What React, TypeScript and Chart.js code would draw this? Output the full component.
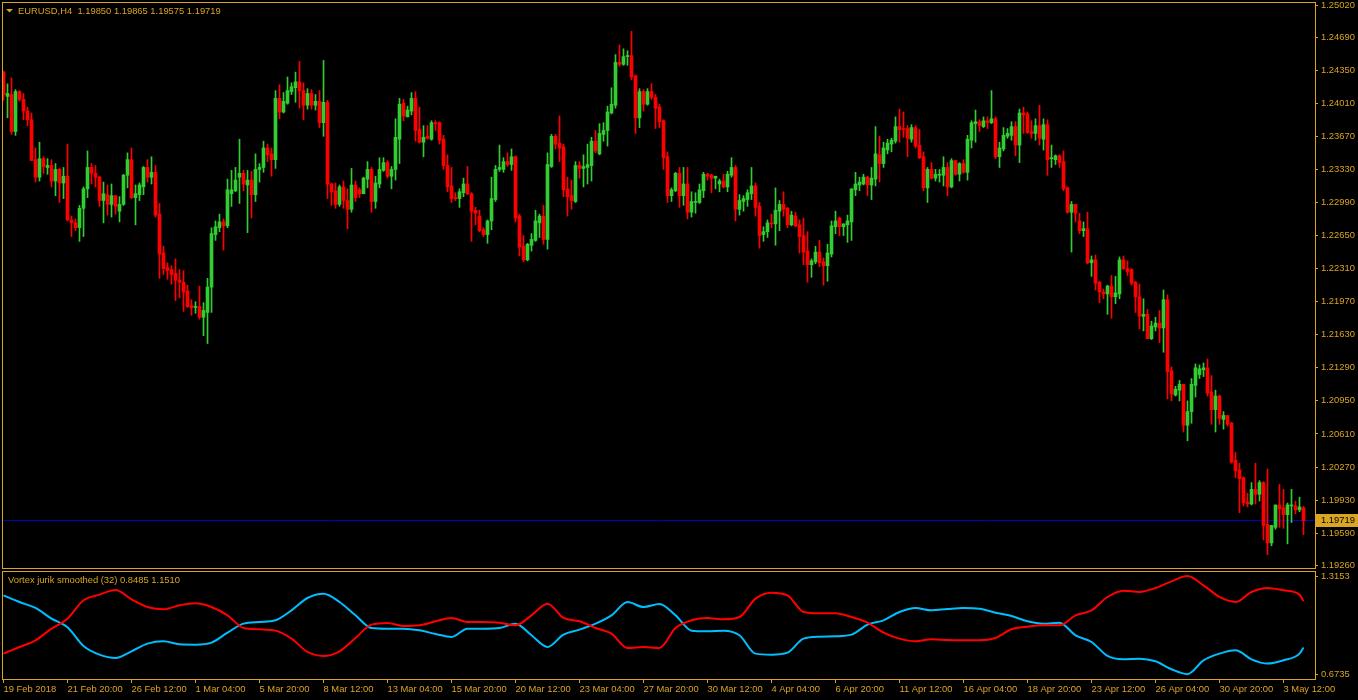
import React, { useEffect, useRef } from "react";
import { Chart, registerables } from "chart.js";

Chart.register(...registerables);

// ---------- text ----------
const SYMBOL_HEADER = "EURUSD,H4  1.19850 1.19865 1.19575 1.19719";
const INDICATOR_HEADER = "Vortex jurik smoothed (32) 0.8485 1.1510";

// ---------- candles (EURUSD H4, 326 bars) ----------
const OPEN = [
  1.2433, 1.2408, 1.2410, 1.2372, 1.2413, 1.2405, 1.2393, 1.2384, 1.2343, 1.2325,
  1.2344, 1.2335, 1.2337, 1.2321, 1.2333, 1.2319, 1.2326, 1.2281, 1.2278, 1.2273,
  1.2293, 1.2313, 1.2335, 1.2329, 1.2325, 1.2301, 1.2307, 1.2297, 1.2306, 1.2290,
  1.2297, 1.2327, 1.2343, 1.2304, 1.2307, 1.2315, 1.2335, 1.2325, 1.2330, 1.2287,
  1.2247, 1.2232, 1.2230, 1.2226, 1.2219, 1.2217, 1.2208, 1.2193, 1.2191, 1.2192,
  1.2181, 1.2186, 1.2212, 1.2266, 1.2273, 1.2279, 1.2275, 1.2308, 1.2311, 1.2325,
  1.2329, 1.2317, 1.2322, 1.2307, 1.2333, 1.2335, 1.2355, 1.2349, 1.2343, 1.2406,
  1.2392, 1.2401, 1.2413, 1.2417, 1.2423, 1.2414, 1.2399, 1.2411, 1.2399, 1.2403,
  1.2381, 1.2402, 1.2318, 1.2311, 1.2297, 1.2315, 1.2301, 1.2292, 1.2317, 1.2312,
  1.2308, 1.2323, 1.2333, 1.2300, 1.2318, 1.2332, 1.2340, 1.2326, 1.2333, 1.2364,
  1.2401, 1.2387, 1.2393, 1.2406, 1.2374, 1.2361, 1.2367, 1.2364, 1.2381, 1.2381,
  1.2364, 1.2337, 1.2316, 1.2304, 1.2303, 1.2309, 1.2318, 1.2308, 1.2291, 1.2285,
  1.2271, 1.2266, 1.2280, 1.2302, 1.2333, 1.2333, 1.2341, 1.2338, 1.2346, 1.2285,
  1.2254, 1.2240, 1.2255, 1.2260, 1.2278, 1.2285, 1.2261, 1.2336, 1.2367, 1.2360,
  1.2356, 1.2313, 1.2306, 1.2300, 1.2337, 1.2334, 1.2335, 1.2337, 1.2362, 1.2349,
  1.2369, 1.2373, 1.2391, 1.2399, 1.2443, 1.2441, 1.2449, 1.2450, 1.2429, 1.2386,
  1.2413, 1.2400, 1.2413, 1.2407, 1.2397, 1.2383, 1.2346, 1.2306, 1.2311, 1.2329,
  1.2306, 1.2318, 1.2289, 1.2299, 1.2299, 1.2311, 1.2328, 1.2327, 1.2324, 1.2318,
  1.2321, 1.2315, 1.2327, 1.2335, 1.2292, 1.2300, 1.2302, 1.2308, 1.2316, 1.2295,
  1.2266, 1.2269, 1.2278, 1.2277, 1.2290, 1.2297, 1.2293, 1.2276, 1.2285, 1.2276,
  1.2265, 1.2249, 1.2235, 1.2238, 1.2248, 1.2238, 1.2234, 1.2246, 1.2274, 1.2283,
  1.2274, 1.2276, 1.2279, 1.2312, 1.2317, 1.2318, 1.2325, 1.2317, 1.2323, 1.2348,
  1.2339, 1.2353, 1.2359, 1.2362, 1.2377, 1.2375, 1.2375, 1.2364, 1.2376, 1.2358,
  1.2346, 1.2314, 1.2333, 1.2324, 1.2327, 1.2327, 1.2335, 1.2315, 1.2342, 1.2328,
  1.2339, 1.2330, 1.2363, 1.2380, 1.2382, 1.2377, 1.2383, 1.2381, 1.2385, 1.2346,
  1.2354, 1.2367, 1.2368, 1.2377, 1.2358, 1.2391, 1.2390, 1.2372, 1.2370, 1.2378,
  1.2364, 1.2379, 1.2344, 1.2343, 1.2347, 1.2341, 1.2314, 1.2289, 1.2297, 1.2280,
  1.2270, 1.2272, 1.2237, 1.2240, 1.2217, 1.2207, 1.2205, 1.2213, 1.2202, 1.2205,
  1.2240, 1.2231, 1.2230, 1.2217, 1.2202, 1.2182, 1.2184, 1.2159, 1.2171, 1.2175,
  1.2170, 1.2199, 1.2126, 1.2101, 1.2106, 1.2112, 1.2070, 1.2084, 1.2111, 1.2122,
  1.2127, 1.2129, 1.2104, 1.2086, 1.2100, 1.2076, 1.2080, 1.2072, 1.2034, 1.2024,
  1.2016, 1.1991, 1.1989, 1.2004, 1.1999, 1.2011, 1.1968, 1.1949, 1.1965, 1.1988,
  1.1985, 1.1978, 1.1987, 1.1987, 1.1983, 1.1985,
];
const HIGH = [
  1.2434, 1.2421, 1.2427, 1.2415, 1.2414, 1.2411, 1.2397, 1.2391, 1.2355, 1.2361,
  1.2346, 1.2344, 1.2343, 1.2339, 1.2334, 1.2335, 1.2359, 1.2285, 1.2282, 1.2296,
  1.2315, 1.2352, 1.2339, 1.2337, 1.2326, 1.2320, 1.2317, 1.2318, 1.2306, 1.2305,
  1.2328, 1.2350, 1.2355, 1.2317, 1.2319, 1.2336, 1.2343, 1.2346, 1.2337, 1.2298,
  1.2254, 1.2237, 1.2234, 1.2241, 1.2230, 1.2229, 1.2214, 1.2199, 1.2197, 1.2213,
  1.2196, 1.2221, 1.2273, 1.2280, 1.2287, 1.2282, 1.2323, 1.2332, 1.2335, 1.2364,
  1.2332, 1.2332, 1.2331, 1.2349, 1.2339, 1.2362, 1.2359, 1.2355, 1.2414, 1.2420,
  1.2412, 1.2428, 1.2422, 1.2433, 1.2444, 1.2422, 1.2416, 1.2415, 1.2410, 1.2414,
  1.2445, 1.2404, 1.2319, 1.2319, 1.2317, 1.2321, 1.2313, 1.2334, 1.2321, 1.2314,
  1.2325, 1.2341, 1.2335, 1.2326, 1.2345, 1.2345, 1.2342, 1.2336, 1.2385, 1.2406,
  1.2405, 1.2398, 1.2412, 1.2413, 1.2397, 1.2378, 1.2378, 1.2383, 1.2383, 1.2382,
  1.2368, 1.2348, 1.2335, 1.2309, 1.2313, 1.2324, 1.2336, 1.2309, 1.2294, 1.2291,
  1.2273, 1.2281, 1.2325, 1.2337, 1.2358, 1.2345, 1.2350, 1.2354, 1.2347, 1.2287,
  1.2265, 1.2257, 1.2267, 1.2291, 1.2287, 1.2296, 1.2350, 1.2369, 1.2369, 1.2388,
  1.2359, 1.2325, 1.2322, 1.2341, 1.2341, 1.2348, 1.2359, 1.2366, 1.2373, 1.2380,
  1.2381, 1.2398, 1.2417, 1.2451, 1.2461, 1.2457, 1.2455, 1.2475, 1.2430, 1.2416,
  1.2415, 1.2416, 1.2421, 1.2410, 1.2400, 1.2384, 1.2351, 1.2314, 1.2330, 1.2335,
  1.2335, 1.2335, 1.2310, 1.2309, 1.2318, 1.2330, 1.2329, 1.2328, 1.2326, 1.2323,
  1.2328, 1.2331, 1.2345, 1.2337, 1.2307, 1.2306, 1.2312, 1.2335, 1.2319, 1.2299,
  1.2274, 1.2281, 1.2287, 1.2314, 1.2301, 1.2310, 1.2294, 1.2290, 1.2289, 1.2281,
  1.2283, 1.2269, 1.2241, 1.2254, 1.2260, 1.2242, 1.2256, 1.2280, 1.2290, 1.2284,
  1.2277, 1.2286, 1.2313, 1.2330, 1.2325, 1.2328, 1.2326, 1.2335, 1.2377, 1.2367,
  1.2361, 1.2364, 1.2365, 1.2387, 1.2395, 1.2392, 1.2378, 1.2379, 1.2378, 1.2374,
  1.2351, 1.2335, 1.2340, 1.2333, 1.2333, 1.2346, 1.2340, 1.2344, 1.2342, 1.2340,
  1.2343, 1.2368, 1.2383, 1.2394, 1.2384, 1.2387, 1.2387, 1.2414, 1.2387, 1.2361,
  1.2376, 1.2375, 1.2382, 1.2382, 1.2395, 1.2397, 1.2392, 1.2383, 1.2385, 1.2399,
  1.2385, 1.2384, 1.2358, 1.2348, 1.2348, 1.2352, 1.2315, 1.2300, 1.2297, 1.2288,
  1.2279, 1.2289, 1.2244, 1.2245, 1.2218, 1.2210, 1.2214, 1.2224, 1.2223, 1.2243,
  1.2244, 1.2239, 1.2231, 1.2218, 1.2215, 1.2200, 1.2189, 1.2177, 1.2181, 1.2188,
  1.2209, 1.2204, 1.2130, 1.2110, 1.2116, 1.2112, 1.2095, 1.2118, 1.2133, 1.2132,
  1.2134, 1.2138, 1.2121, 1.2106, 1.2101, 1.2084, 1.2080, 1.2073, 1.2042, 1.2031,
  1.2017, 1.2000, 1.2011, 1.2031, 1.2013, 1.2012, 1.2025, 1.1967, 1.1988, 1.2009,
  1.2004, 1.1990, 1.2004, 1.1992, 1.1996, 1.19865,
];
const LOW = [
  1.2404, 1.2386, 1.2369, 1.2368, 1.2403, 1.2384, 1.2378, 1.2342, 1.2320, 1.2321,
  1.2329, 1.2328, 1.2315, 1.2306, 1.2299, 1.2303, 1.2280, 1.2264, 1.2270, 1.2259,
  1.2264, 1.2304, 1.2318, 1.2315, 1.2295, 1.2278, 1.2286, 1.2284, 1.2287, 1.2279,
  1.2296, 1.2314, 1.2303, 1.2276, 1.2301, 1.2307, 1.2320, 1.2318, 1.2284, 1.2221,
  1.2225, 1.2220, 1.2215, 1.2198, 1.2201, 1.2187, 1.2191, 1.2183, 1.2185, 1.2179,
  1.2162, 1.2154, 1.2186, 1.2260, 1.2269, 1.2250, 1.2273, 1.2295, 1.2310, 1.2298,
  1.2311, 1.2268, 1.2283, 1.2300, 1.2320, 1.2330, 1.2341, 1.2326, 1.2334, 1.2385,
  1.2391, 1.2400, 1.2410, 1.2402, 1.2396, 1.2384, 1.2395, 1.2395, 1.2394, 1.2376,
  1.2367, 1.2303, 1.2296, 1.2293, 1.2295, 1.2293, 1.2272, 1.2289, 1.2300, 1.2304,
  1.2308, 1.2314, 1.2289, 1.2293, 1.2314, 1.2331, 1.2324, 1.2313, 1.2322, 1.2339,
  1.2383, 1.2387, 1.2389, 1.2362, 1.2360, 1.2346, 1.2364, 1.2363, 1.2373, 1.2359,
  1.2333, 1.2310, 1.2299, 1.2301, 1.2294, 1.2305, 1.2307, 1.2259, 1.2276, 1.2269,
  1.2264, 1.2257, 1.2271, 1.2300, 1.2331, 1.2330, 1.2336, 1.2332, 1.2279, 1.2244,
  1.2238, 1.2239, 1.2249, 1.2259, 1.2263, 1.2256, 1.2251, 1.2335, 1.2354, 1.2341,
  1.2305, 1.2285, 1.2292, 1.2299, 1.2324, 1.2315, 1.2318, 1.2321, 1.2350, 1.2348,
  1.2362, 1.2357, 1.2390, 1.2396, 1.2439, 1.2440, 1.2440, 1.2425, 1.2370, 1.2376,
  1.2393, 1.2399, 1.2405, 1.2375, 1.2376, 1.2333, 1.2299, 1.2300, 1.2310, 1.2294,
  1.2296, 1.2282, 1.2284, 1.2288, 1.2298, 1.2304, 1.2322, 1.2309, 1.2313, 1.2310,
  1.2314, 1.2310, 1.2325, 1.2280, 1.2286, 1.2290, 1.2295, 1.2302, 1.2285, 1.2252,
  1.2259, 1.2263, 1.2273, 1.2255, 1.2270, 1.2285, 1.2273, 1.2275, 1.2274, 1.2247,
  1.2235, 1.2217, 1.2222, 1.2236, 1.2233, 1.2214, 1.2218, 1.2243, 1.2267, 1.2265,
  1.2265, 1.2258, 1.2260, 1.2306, 1.2311, 1.2317, 1.2306, 1.2302, 1.2316, 1.2320,
  1.2335, 1.2349, 1.2351, 1.2360, 1.2361, 1.2366, 1.2346, 1.2361, 1.2355, 1.2344,
  1.2311, 1.2299, 1.2323, 1.2321, 1.2320, 1.2316, 1.2306, 1.2314, 1.2327, 1.2321,
  1.2329, 1.2322, 1.2355, 1.2361, 1.2372, 1.2376, 1.2375, 1.2380, 1.2344, 1.2335,
  1.2352, 1.2365, 1.2363, 1.2347, 1.2340, 1.2370, 1.2370, 1.2365, 1.2363, 1.2358,
  1.2353, 1.2327, 1.2335, 1.2338, 1.2335, 1.2311, 1.2288, 1.2248, 1.2279, 1.2267,
  1.2264, 1.2236, 1.2223, 1.2209, 1.2196, 1.2200, 1.2184, 1.2180, 1.2195, 1.2200,
  1.2230, 1.2224, 1.2214, 1.2186, 1.2169, 1.2167, 1.2159, 1.2158, 1.2167, 1.2155,
  1.2145, 1.2097, 1.2095, 1.2100, 1.2095, 1.2063, 1.2054, 1.2072, 1.2099, 1.2118,
  1.2120, 1.2100, 1.2071, 1.2063, 1.2071, 1.2066, 1.2069, 1.2031, 1.2016, 1.1980,
  1.1987, 1.1986, 1.1988, 1.1989, 1.1992, 1.1952, 1.1937, 1.1946, 1.1963, 1.1965,
  1.1964, 1.1948, 1.1970, 1.1979, 1.1981, 1.19575,
];
const CLOSE = [
  1.2410, 1.2411, 1.2372, 1.2413, 1.2405, 1.2393, 1.2384, 1.2342, 1.2325, 1.2344,
  1.2336, 1.2337, 1.2321, 1.2333, 1.2319, 1.2326, 1.2281, 1.2278, 1.2273, 1.2293,
  1.2313, 1.2335, 1.2329, 1.2325, 1.2301, 1.2308, 1.2297, 1.2306, 1.2295, 1.2297,
  1.2327, 1.2343, 1.2304, 1.2308, 1.2317, 1.2335, 1.2325, 1.2330, 1.2286, 1.2246,
  1.2231, 1.2229, 1.2225, 1.2219, 1.2217, 1.2207, 1.2192, 1.2191, 1.2192, 1.2181,
  1.2188, 1.2212, 1.2267, 1.2274, 1.2279, 1.2275, 1.2312, 1.2312, 1.2322, 1.2329,
  1.2318, 1.2322, 1.2307, 1.2333, 1.2335, 1.2355, 1.2348, 1.2343, 1.2406, 1.2392,
  1.2403, 1.2414, 1.2418, 1.2423, 1.2414, 1.2399, 1.2411, 1.2399, 1.2403, 1.2381,
  1.2402, 1.2318, 1.2310, 1.2297, 1.2315, 1.2301, 1.2292, 1.2317, 1.2304, 1.2308,
  1.2324, 1.2333, 1.2300, 1.2319, 1.2333, 1.2340, 1.2326, 1.2333, 1.2366, 1.2400,
  1.2388, 1.2394, 1.2406, 1.2373, 1.2361, 1.2366, 1.2365, 1.2381, 1.2380, 1.2363,
  1.2337, 1.2315, 1.2303, 1.2303, 1.2310, 1.2318, 1.2308, 1.2290, 1.2288, 1.2270,
  1.2266, 1.2280, 1.2303, 1.2333, 1.2335, 1.2341, 1.2338, 1.2346, 1.2283, 1.2253,
  1.2240, 1.2256, 1.2261, 1.2280, 1.2285, 1.2261, 1.2338, 1.2367, 1.2359, 1.2355,
  1.2312, 1.2305, 1.2301, 1.2337, 1.2334, 1.2336, 1.2338, 1.2362, 1.2352, 1.2370,
  1.2373, 1.2392, 1.2400, 1.2443, 1.2441, 1.2449, 1.2450, 1.2428, 1.2386, 1.2413,
  1.2400, 1.2413, 1.2407, 1.2396, 1.2382, 1.2345, 1.2306, 1.2312, 1.2329, 1.2306,
  1.2318, 1.2289, 1.2300, 1.2300, 1.2312, 1.2328, 1.2326, 1.2324, 1.2326, 1.2321,
  1.2315, 1.2328, 1.2335, 1.2292, 1.2301, 1.2303, 1.2309, 1.2316, 1.2294, 1.2265,
  1.2269, 1.2278, 1.2277, 1.2291, 1.2297, 1.2292, 1.2276, 1.2286, 1.2275, 1.2264,
  1.2248, 1.2235, 1.2239, 1.2248, 1.2237, 1.2234, 1.2247, 1.2275, 1.2280, 1.2274,
  1.2277, 1.2280, 1.2313, 1.2318, 1.2320, 1.2325, 1.2317, 1.2324, 1.2349, 1.2339,
  1.2355, 1.2360, 1.2363, 1.2377, 1.2374, 1.2374, 1.2365, 1.2376, 1.2357, 1.2345,
  1.2314, 1.2333, 1.2324, 1.2328, 1.2328, 1.2335, 1.2315, 1.2342, 1.2328, 1.2339,
  1.2330, 1.2364, 1.2381, 1.2382, 1.2378, 1.2383, 1.2381, 1.2385, 1.2346, 1.2355,
  1.2368, 1.2370, 1.2377, 1.2358, 1.2391, 1.2389, 1.2371, 1.2370, 1.2378, 1.2365,
  1.2379, 1.2343, 1.2345, 1.2347, 1.2340, 1.2313, 1.2289, 1.2297, 1.2288, 1.2270,
  1.2272, 1.2237, 1.2240, 1.2216, 1.2207, 1.2205, 1.2213, 1.2202, 1.2206, 1.2240,
  1.2231, 1.2228, 1.2216, 1.2202, 1.2182, 1.2184, 1.2159, 1.2172, 1.2175, 1.2170,
  1.2199, 1.2125, 1.2102, 1.2107, 1.2112, 1.2070, 1.2084, 1.2112, 1.2129, 1.2128,
  1.2129, 1.2103, 1.2086, 1.2100, 1.2077, 1.2080, 1.2071, 1.2032, 1.2023, 1.2015,
  1.1990, 1.1989, 1.2004, 1.1999, 1.2011, 1.1967, 1.1949, 1.1967, 1.1988, 1.1984,
  1.1978, 1.1988, 1.1988, 1.1983, 1.1986, 1.19719,
];

// ---------- price axis ----------
const PRICE_TICKS = [
  1.2502, 1.2469, 1.2435, 1.2401, 1.2367, 1.2333, 1.2299, 1.2265, 1.2231,
  1.2197, 1.2163, 1.2129, 1.2095, 1.2061, 1.2027, 1.1993, 1.1959, 1.1926,
];
const PRICE_MIN = 1.19232;
const PRICE_MAX = 1.25051;
const BID_PRICE = 1.19719;

// ---------- time axis ----------
const TIME_TICK_BARS = [0, 16, 32, 48, 64, 80, 96, 112, 128, 144, 160, 176, 192, 208, 224, 240, 256, 272, 288, 304, 320];
const TIME_TICK_LABELS = [
  "19 Feb 2018", "21 Feb 20:00", "26 Feb 12:00", "1 Mar 04:00", "5 Mar 20:00",
  "8 Mar 12:00", "13 Mar 04:00", "15 Mar 20:00", "20 Mar 12:00", "23 Mar 04:00",
  "27 Mar 20:00", "30 Mar 12:00", "4 Apr 04:00", "6 Apr 20:00", "11 Apr 12:00",
  "16 Apr 04:00", "18 Apr 20:00", "23 Apr 12:00", "26 Apr 04:00", "30 Apr 20:00",
  "3 May 12:00",
];
const BAR_MIN = -0.375;
const BAR_MAX = 327.875;

// ---------- Vortex jurik smoothed (32) ----------
const VORTEX_BARS = [
  0, 4, 8, 12, 16, 20, 24, 28, 32, 36, 40, 44, 48, 52, 56, 60, 64, 68, 72, 76,
  80, 84, 88, 92, 96, 100, 104, 108, 112, 116, 120, 124, 128, 132, 136, 140, 144, 148, 152, 156,
  160, 164, 168, 172, 176, 180, 184, 188, 192, 196, 200, 204, 208, 212, 216, 220, 224, 228, 232, 236,
  240, 244, 248, 252, 256, 260, 264, 268, 272, 276, 280, 284, 288, 292, 296, 300, 304, 308, 312, 316,
  320, 324, 325,
];
const VORTEX_PLUS = [
  0.8084, 0.8519, 0.8954, 0.9716, 1.0369, 1.1565, 1.1935, 1.2240, 1.1630, 1.1130,
  1.0978, 1.1239, 1.1369, 1.1130, 1.0586, 0.9759, 0.9672, 0.9585, 0.9063, 0.8193,
  0.7932, 0.8237, 0.9107, 0.9977, 1.0086, 0.9890, 0.9933, 1.0195, 1.0412, 1.0151,
  1.0151, 1.0108, 0.9933, 1.0586, 1.1348, 1.0412, 1.0195, 0.9759, 0.9390, 0.8454,
  0.8519, 0.8454, 0.9759, 1.0260, 1.0412, 1.0325, 1.0477, 1.1674, 1.2066, 1.1892,
  1.0804, 1.0717, 1.0717, 1.0477, 1.0108, 0.9455, 0.9063, 0.8889, 0.9020, 0.8976,
  0.8954, 0.8954, 0.9107, 0.9672, 0.9846, 0.9933, 0.9933, 1.0586, 1.0912, 1.1783,
  1.2196, 1.2109, 1.2370, 1.2805, 1.3153, 1.2544, 1.1783, 1.1456, 1.2109, 1.2370,
  1.2218, 1.1935, 1.1510,
];
const VORTEX_MINUS = [
  1.1892, 1.1456, 1.1065, 1.0369, 0.9803, 0.8585, 0.8019, 0.7801, 0.8237, 0.8737,
  0.8889, 0.8693, 0.8672, 0.8802, 0.9455, 1.0042, 1.0151, 1.0260, 1.0912, 1.1717,
  1.2000, 1.1456, 1.0586, 0.9759, 0.9716, 0.9716, 0.9607, 0.9368, 0.9172, 0.9716,
  0.9716, 0.9759, 1.0042, 0.9281, 0.8519, 0.9324, 0.9651, 1.0042, 1.0586, 1.1456,
  1.1130, 1.1326, 1.0586, 0.9585, 0.9542, 0.9585, 0.9281, 0.8084, 0.8019, 0.8149,
  0.9063, 0.9194, 0.9216, 0.9324, 0.9977, 1.0260, 1.0804, 1.1065, 1.0912, 1.1000,
  1.1065, 1.1021, 1.0760, 1.0543, 1.0195, 1.0042, 1.0108, 0.9281, 0.8846, 0.7932,
  0.7714, 0.7758, 0.7584, 0.7062, 0.6745, 0.7649, 0.8084, 0.8302, 0.7714, 0.7432,
  0.7649, 0.8084, 0.8485,
];
const VORTEX_TICKS = [0.6735, 1.3153];
const VORTEX_MIN = 0.64281;
const VORTEX_MAX = 1.34795;

// ---------- style ----------
const GOLD = "#DAA520";
const BULL = "#32CD32";
const BEAR = "#FF0000";
const BID_LINE = "#0000C8";
const PLUS_COLOR = "#FF0000";
const MINUS_COLOR = "#00BFFF";
const FONT_FAMILY = '"Liberation Sans", Arial, sans-serif';
const FONT_SIZE = 9.4;
const AXIS_WIDTH = 43;

const mainDecor = {
  id: "mainDecor",
  beforeDatasetsDraw(chart: any) {
    const { ctx, chartArea, scales } = chart;
    const py = Math.floor(scales.y.getPixelForValue(BID_PRICE)) + 0.5;
    ctx.save();
    ctx.strokeStyle = BID_LINE;
    ctx.lineWidth = 1;
    ctx.beginPath();
    ctx.moveTo(chartArea.left, py);
    ctx.lineTo(chartArea.right, py);
    ctx.stroke();
    ctx.restore();
  },
  afterDraw(chart: any) {
    const { ctx, chartArea, scales, width } = chart;
    ctx.save();
    ctx.strokeStyle = GOLD;
    ctx.lineWidth = 1;
    ctx.strokeRect(chartArea.left + 0.5, chartArea.top + 0.5, chartArea.right - chartArea.left, chartArea.bottom - chartArea.top);
    // header
    ctx.fillStyle = GOLD;
    ctx.beginPath();
    ctx.moveTo(chartArea.left + 4, chartArea.top + 7);
    ctx.lineTo(chartArea.left + 11, chartArea.top + 7);
    ctx.lineTo(chartArea.left + 7.5, chartArea.top + 10.5);
    ctx.closePath();
    ctx.fill();
    ctx.font = `${FONT_SIZE}px ${FONT_FAMILY}`;
    ctx.textBaseline = "middle";
    ctx.textAlign = "left";
    ctx.fillText(SYMBOL_HEADER, chartArea.left + 16, chartArea.top + 9);
    // bid label on the axis
    const py = Math.floor(scales.y.getPixelForValue(BID_PRICE)) + 0.5;
    ctx.fillStyle = GOLD;
    ctx.fillRect(chartArea.right + 1, Math.round(py) - 7, width - chartArea.right - 1, 13);
    ctx.fillStyle = "#000";
    ctx.fillText(BID_PRICE.toFixed(5), chartArea.right + 6, py);
    ctx.restore();
  },
};

const subDecor = {
  id: "subDecor",
  afterDraw(chart: any) {
    const { ctx, chartArea } = chart;
    ctx.save();
    ctx.strokeStyle = GOLD;
    ctx.lineWidth = 1;
    ctx.strokeRect(chartArea.left + 0.5, chartArea.top + 0.5, chartArea.right - chartArea.left, chartArea.bottom - chartArea.top);
    ctx.fillStyle = GOLD;
    ctx.font = `${FONT_SIZE}px ${FONT_FAMILY}`;
    ctx.textBaseline = "middle";
    ctx.textAlign = "left";
    ctx.fillText(INDICATOR_HEADER, chartArea.left + 6, chartArea.top + 9);
    ctx.restore();
  },
};

export default function App() {
  const mainRef = useRef<HTMLCanvasElement | null>(null);
  const subRef = useRef<HTMLCanvasElement | null>(null);

  useEffect(() => {
    Chart.defaults.font.family = FONT_FAMILY;
    Chart.defaults.font.size = FONT_SIZE;
    const font = { family: FONT_FAMILY, size: FONT_SIZE };
    const idx = CLOSE.map((_, i) => i);
    const colors = CLOSE.map((c, i) => (c >= OPEN[i] ? BULL : BEAR));

    const main = new Chart(mainRef.current as HTMLCanvasElement, {
      type: "bar",
      data: {
        datasets: [
          {
            label: "body",
            data: idx.map((i) => ({ x: i, y: [OPEN[i], CLOSE[i]] })) as any,
            backgroundColor: colors,
            borderWidth: 0,
            barThickness: 3,
            minBarLength: 1,
            grouped: false,
            order: 0,
          } as any,
          {
            label: "wick",
            data: idx.map((i) => ({ x: i, y: [LOW[i], HIGH[i]] })) as any,
            backgroundColor: colors,
            borderWidth: 0,
            barThickness: 1,
            minBarLength: 1,
            grouped: false,
            order: 1,
          } as any,
        ],
      },
      options: {
        responsive: false,
        animation: false,
        devicePixelRatio: 1,
        events: [],
        layout: { padding: { left: 2, top: 2, right: 0, bottom: 2 } },
        plugins: { legend: { display: false }, tooltip: { enabled: false } },
        scales: {
          x: { type: "linear", display: false, min: BAR_MIN, max: BAR_MAX, offset: false, bounds: "data" },
          y: {
            type: "linear",
            position: "right",
            min: PRICE_MIN,
            max: PRICE_MAX,
            bounds: "data",
            beginAtZero: false,
            afterBuildTicks: (s: any) => {
              s.ticks = PRICE_TICKS.map((v) => ({ value: v }));
            },
            afterFit: (s: any) => {
              s.width = AXIS_WIDTH;
              s.paddingTop = 0;
              s.paddingBottom = 0;
            },
            ticks: {
              autoSkip: false,
              padding: 3,
              color: GOLD,
              font,
              callback: (v: any) => Number(v).toFixed(5),
            },
            grid: { display: true, drawOnChartArea: false, drawTicks: true, tickLength: 3, color: GOLD },
            border: { display: false },
          },
        },
      } as any,
      plugins: [mainDecor],
    });

    const sub = new Chart(subRef.current as HTMLCanvasElement, {
      type: "line",
      data: {
        datasets: [
          {
            label: "VI+",
            data: VORTEX_BARS.map((b, k) => ({ x: b, y: VORTEX_PLUS[k] })),
            borderColor: PLUS_COLOR,
            borderWidth: 2,
            pointRadius: 0,
            tension: 0.4,
            cubicInterpolationMode: "monotone",
            fill: false,
          },
          {
            label: "VI-",
            data: VORTEX_BARS.map((b, k) => ({ x: b, y: VORTEX_MINUS[k] })),
            borderColor: MINUS_COLOR,
            borderWidth: 2,
            pointRadius: 0,
            tension: 0.4,
            cubicInterpolationMode: "monotone",
            fill: false,
          },
        ],
      },
      options: {
        responsive: false,
        animation: false,
        devicePixelRatio: 1,
        events: [],
        layout: { padding: { left: 2, top: 1, right: 0, bottom: 0 } },
        plugins: { legend: { display: false }, tooltip: { enabled: false } },
        scales: {
          x: {
            type: "linear",
            min: BAR_MIN,
            max: BAR_MAX,
            offset: false,
            bounds: "data",
            afterBuildTicks: (s: any) => {
              s.ticks = TIME_TICK_BARS.map((v) => ({ value: v }));
            },
            afterFit: (s: any) => {
              s.height = 21;
              s.paddingLeft = 0;
              s.paddingRight = 0;
            },
            ticks: {
              autoSkip: false,
              maxRotation: 0,
              minRotation: 0,
              align: "start",
              padding: 1,
              color: GOLD,
              font,
              callback: (_v: any, i: number) => TIME_TICK_LABELS[i],
            },
            grid: { display: true, drawOnChartArea: false, drawTicks: true, tickLength: 4, color: GOLD, offset: false },
            border: { display: false },
          },
          y: {
            type: "linear",
            position: "right",
            min: VORTEX_MIN,
            max: VORTEX_MAX,
            bounds: "data",
            beginAtZero: false,
            afterBuildTicks: (s: any) => {
              s.ticks = VORTEX_TICKS.map((v) => ({ value: v }));
            },
            afterFit: (s: any) => {
              s.width = AXIS_WIDTH;
              s.paddingTop = 0;
              s.paddingBottom = 0;
            },
            ticks: {
              autoSkip: false,
              padding: 3,
              color: GOLD,
              font,
              callback: (v: any) => Number(v).toFixed(4),
            },
            grid: { display: true, drawOnChartArea: false, drawTicks: true, tickLength: 3, color: GOLD },
            border: { display: false },
          },
        },
      } as any,
      plugins: [subDecor],
    });

    return () => {
      main.destroy();
      sub.destroy();
    };
  }, []);

  return (
    <div style={{ position: "fixed", left: 0, top: 0, width: 1358, height: 700, background: "#000", overflow: "hidden" }}>
      <canvas ref={mainRef} width={1358} height={570} style={{ position: "absolute", left: 0, top: 0, width: 1358, height: 570 }} />
      <canvas ref={subRef} width={1358} height={130} style={{ position: "absolute", left: 0, top: 570, width: 1358, height: 130 }} />
    </div>
  );
}
